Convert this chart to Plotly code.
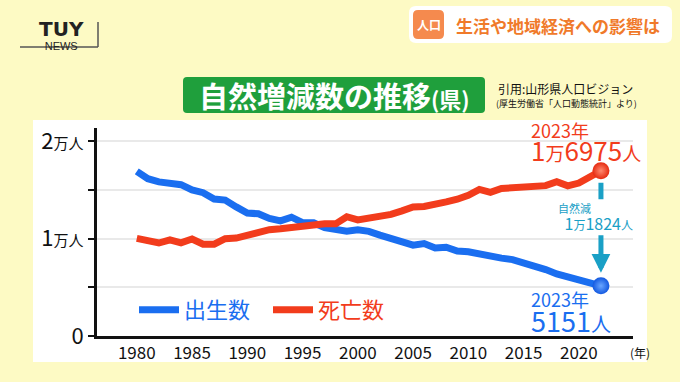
import plotly.graph_objects as go

# ---------------- data ----------------
years = list(range(1980, 2023))
births = [16910, 16150, 15830, 15680, 15540, 15000, 14720, 14070, 13960, 13260,
          12630, 12550, 12070, 11820, 12200, 11650, 11630, 11120, 10900, 10750,
          10900, 10750, 10360, 9980, 9720, 9330, 9500, 9040, 9120, 8730,
          8650, 8400, 8150, 8000, 7850, 7550, 7230, 6820, 6370, 6030,
          5790, 5440, 5151]
deaths = [10030, 9720, 9550, 9880, 9570, 9960, 9430, 9430, 9990, 10060,
          10370, 10700, 10920, 11010, 11160, 11280, 11430, 11530, 11520, 12250,
          11920, 12080, 12150, 12490, 12850, 13260, 13300, 13480, 13780, 14050,
          14450, 15050, 14750, 15150, 15200, 15230, 15370, 15440, 15850, 15420,
          15710, 16400, 16975]
x_tickvals = [1980, 1985, 1990, 1995, 2000, 2005, 2010, 2015, 2020]
y_tickvals = [0, 5000, 10000, 15000, 20000]
y_ticktext = ["0", "", '1<span style="font-size:15px">万人</span>', "",
              '2<span style="font-size:15px">万人</span>']
label_year = "2023年"
name_births = "出生数"
name_deaths = "死亡数"

# ---------------- layout helpers ----------------
W, H = 680, 382
L, R, T, B = 97, 47, 128, 46
PW, PH = W - L - R, H - T - B
FONT = "Noto Sans CJK JP"
BLUE = "#1a6ef0"
RED = "#f23c1c"
TEAL = "#1aa0c6"


def px(x):
    return (x - L) / PW


def py(y):
    return (H - B - y) / PH


def man(v, big, small):
    b = f'<span style="font-size:{big}px">'
    s = f'<span style="font-size:{small}px">'
    if v >= 10000:
        return f'{b}{v // 10000}</span>{s}万</span>{b}{v % 10000:04d}</span>{s}人</span>'
    return f'{b}{v}</span>{s}人</span>'


def rrect(x0, y0, x1, y1, r):
    rx, ry = r / PW, r / PH
    a, b, c, d = px(x0), py(y1), px(x1), py(y0)
    return (f"M{a+rx},{b} L{c-rx},{b} Q{c},{b} {c},{b+ry} L{c},{d-ry} Q{c},{d} {c-rx},{d} "
            f"L{a+rx},{d} Q{a},{d} {a},{d-ry} L{a},{b+ry} Q{a},{b} {a+rx},{b} Z")


def ptext(x, y, text, size, color="#111111", family=FONT, xanchor="center"):
    return dict(xref="paper", yref="paper", x=px(x), y=py(y), text=text, showarrow=False,
                xanchor=xanchor, yanchor="middle", font=dict(family=family, size=size, color=color))


fig = go.Figure()
fig.add_trace(go.Scatter(
    x=years, y=births, mode="lines",
    name=f'<span style="color:{BLUE}">{name_births}</span>',
    line=dict(color=BLUE, width=7),
))
fig.add_trace(go.Scatter(
    x=years, y=deaths, mode="lines",
    name=f'<span style="color:{RED}">{name_deaths}</span>',
    line=dict(color=RED, width=7),
))
fig.add_trace(go.Scatter(
    x=[years[-1]], y=[births[-1]], mode="markers", showlegend=False,
    marker=dict(size=17, color="#1258e0", gradient=dict(type="radial", color="#6aa6ff"),
                line=dict(width=0)),
))
fig.add_trace(go.Scatter(
    x=[years[-1]], y=[deaths[-1]], mode="markers", showlegend=False,
    marker=dict(size=17, color="#e52a10", gradient=dict(type="radial", color="#ff8a70"),
                line=dict(width=0)),
))

shapes = [
    # white chart panel
    dict(type="rect", xref="paper", yref="paper", x0=px(33), x1=px(647), y0=py(362), y1=py(120),
         fillcolor="white", line=dict(width=0), layer="below"),
    # top-right banner
    dict(type="path", xref="paper", yref="paper", path=rrect(409, 6, 672, 43, 7),
         fillcolor="white", line=dict(width=0), layer="below"),
    dict(type="path", xref="paper", yref="paper", path=rrect(413, 10, 444, 39, 5),
         fillcolor="#f58a4e", line=dict(width=0), layer="below"),
    # title green box
    dict(type="path", xref="paper", yref="paper", path=rrect(183, 77, 485, 113, 4),
         fillcolor="#1f9f3c", line=dict(width=0), layer="below"),
    # logo frame
    dict(type="line", xref="paper", yref="paper", x0=px(20), x1=px(98), y0=py(47), y1=py(47),
         line=dict(color="#555555", width=1.5)),
    dict(type="line", xref="paper", yref="paper", x0=px(98), x1=px(98), y0=py(22), y1=py(47),
         line=dict(color="#555555", width=1.5)),
]

ann = [
    dict(xref="paper", yref="paper", x=px(61), y=py(34), xanchor="center", yanchor="middle",
         showarrow=False, align="center",
         text='<span style="font-family:DejaVu Sans;font-size:20px"><b>TUY</b></span><br>NEWS',
         font=dict(family="Liberation Sans", size=11, color="#222222")),
    ptext(428.5, 24.5, "<b>人口</b>", 12, "white"),
    ptext(558, 25, "<b>生活や地域経済への影響は</b>", 17, "#f07a2a"),
    ptext(334, 95, '<b>自然増減数の推移<span style="font-size:22px">(県)</span></b>', 29, "white"),
    ptext(496, 88, "引用:山形県人口ビジョン", 12, xanchor="left"),
    ptext(494, 103, "(厚生労働省「人口動態統計」より)", 9, xanchor="left"),
    ptext(640, 352, "(年)", 12),
]

xe = years[-1]
diff = deaths[-1] - births[-1]
ann += [
    # deaths end label
    dict(x=xe, y=deaths[-1], xanchor="left", yanchor="middle", xshift=-72, yshift=28,
         align="left", showarrow=False,
         text=f'<span style="font-size:18px">{label_year}</span><br>{man(deaths[-1], 26, 19)}',
         font=dict(family=FONT, size=18, color=RED)),
    # births end label
    dict(x=xe, y=births[-1], xanchor="left", yanchor="middle", xshift=-72, yshift=-27,
         align="left", showarrow=False,
         text=f'<span style="font-size:18px">{label_year}</span><br>{man(births[-1], 27, 20)}',
         font=dict(family=FONT, size=19, color=BLUE)),
    # natural decrease label
    dict(x=xe, y=deaths[-1], xanchor="left", yanchor="middle", xshift=-45, yshift=-47,
         align="left", showarrow=False,
         text=f'<span style="font-size:11px">自然減</span><br>\u2002{man(diff, 16, 12)}',
         font=dict(family=FONT, size=13, color=TEAL)),
    # arrow segments
    dict(x=xe, y=deaths[-1], ax=0, ay=30, text="", showarrow=True, arrowhead=0,
         arrowwidth=5, arrowcolor=TEAL, standoff=12, font=dict(size=1)),
    dict(x=xe, y=births[-1], ax=0, ay=-52, text="", showarrow=True, arrowhead=2,
         arrowsize=0.75, arrowwidth=5, arrowcolor=TEAL, standoff=13, font=dict(size=1)),
]

fig.update_layout(
    width=W, height=H,
    margin=dict(l=L, r=R, t=T, b=B, pad=0),
    paper_bgcolor="#fdfac4",
    plot_bgcolor="rgba(0,0,0,0)",
    font=dict(family=FONT, color="#111111"),
    shapes=shapes,
    annotations=ann,
    showlegend=True,
    legend=dict(orientation="h", x=px(134), y=py(310), xanchor="left", yanchor="middle",
                font=dict(family=FONT, size=22), bgcolor="rgba(0,0,0,0)",
                entrywidth=79, entrywidthmode="pixels", itemwidth=40),
    xaxis=dict(range=[1976.4, 2024.9], tickvals=x_tickvals, showgrid=False, zeroline=False,
               showline=True, linecolor="#111111", linewidth=3, ticks="",
               tickfont=dict(family=FONT, size=17, color="#111111")),
    yaxis=dict(range=[0, 21360], tickvals=y_tickvals, ticktext=y_ticktext,
               showgrid=True, gridcolor="#e9e9e9", gridwidth=1.5, zeroline=False,
               showline=True, linecolor="#111111", linewidth=3,
               ticks="outside", ticklen=6, tickwidth=2, tickcolor="#111111",
               tickfont=dict(family=FONT, size=22, color="#111111")),
)

fig.write_html("out.html", config={"displayModeBar": False},
               post_script="document.body.style.margin='0px';")
